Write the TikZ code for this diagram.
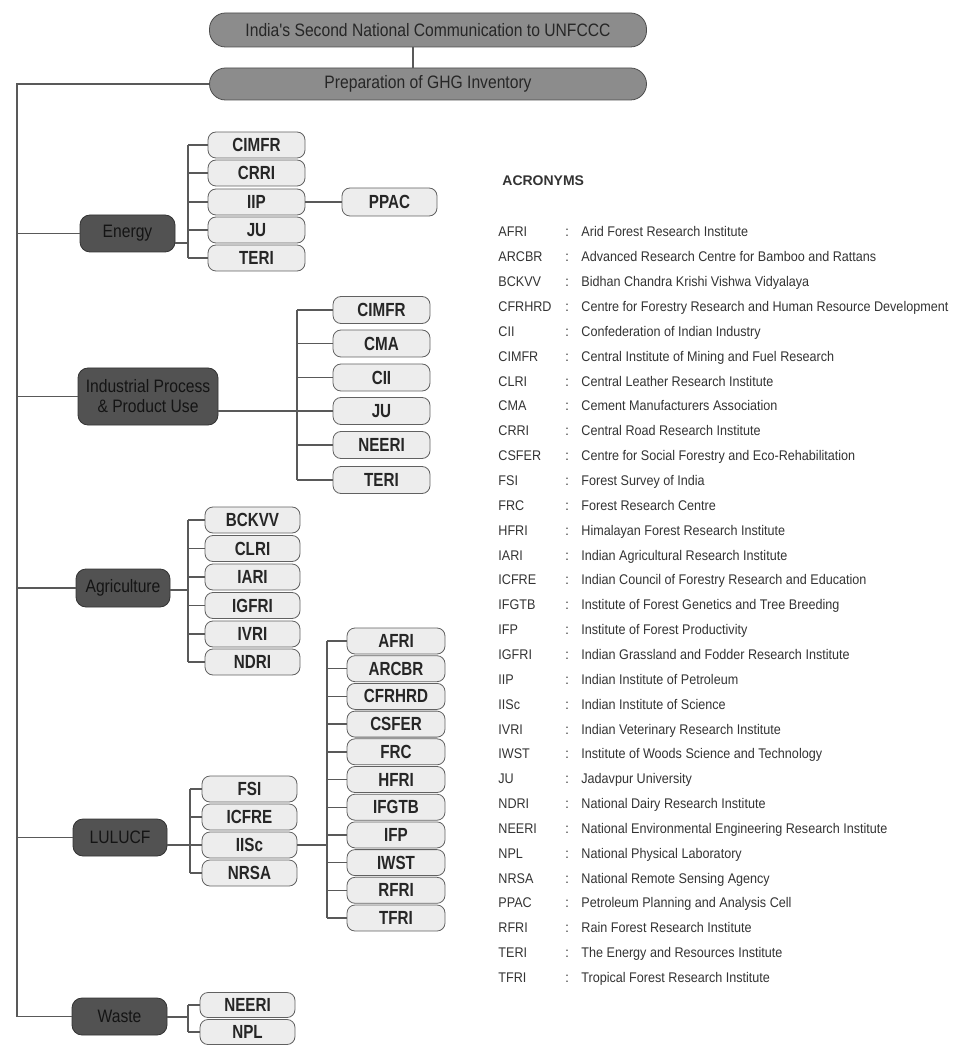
\documentclass[tikz,border=0pt]{standalone}
\usepackage{fontspec}
\newfontfamily\condf{Liberation Sans}[FakeStretch=0.87]
\newfontfamily\boxf{Liberation Sans Bold}[FakeStretch=0.8]
\newfontfamily\acrf{Liberation Sans}[FakeStretch=0.9]
\newfontfamily\plainb{Liberation Sans Bold}
\tikzset{
  conn/.style={draw=black!65, line width=0.7pt},
  topbox/.style={draw=black!70, fill=black!45, rounded corners=8pt, minimum width=218.5pt,
    minimum height=17pt, inner sep=0pt, font=\condf\fontsize{9}{10}\selectfont, text=black!85},
  sector/.style={draw=black!80, fill=black!68, rounded corners=5pt, inner sep=0pt,
    minimum width=47.5pt, minimum height=18.5pt, align=center,
    font=\condf\fontsize{9}{10}\selectfont, text=black!92},
  org/.style={draw=black!62, fill=black!7, rounded corners=4pt, inner sep=0pt,
    minimum width=48.5pt, minimum height=13pt, font=\boxf\fontsize{9.5}{10}\selectfont, text=black!85},
  acr/.style={anchor=base west, inner sep=0pt, font=\acrf\fontsize{7}{8}\selectfont, text=black!80}
}
\begin{document}
\begin{tikzpicture}[x=0.5pt,y=-0.5pt]
\useasboundingbox (0,0) rectangle (955,1047);
% top
\node[topbox] (t1) at (428,30) {India's Second National Communication to UNFCCC};
\node[topbox, minimum height=16pt] (t2) at (428,84) {Preparation of GHG Inventory};
\draw[conn] ([xshift=-7.5pt]t1.south) -- ([xshift=-7.5pt]t2.north);
% sectors
\node[sector] (energy) at (127.5,233.5) {Energy};
\node[sector, minimum width=70pt, minimum height=28.5pt] (ippu) at (148,396.5) {Industrial Process\\\& Product Use};
\node[sector, minimum width=47pt, minimum height=19pt] (agri) at (123,588) {Agriculture};
\node[sector, minimum width=47pt] (lulucf) at (120,837.5) {LULUCF};
\node[sector] (waste) at (119.5,1016.5) {Waste};
% trunk
\coordinate (tr) at (17,84);
\draw[conn] (t2.west) -- (tr) -- (tr |- waste.west) -- (waste.west);
\foreach \s in {energy,ippu,agri,lulucf}
  \draw[conn] (tr |- \s.west) -- (\s.west);
% energy group
\foreach \n/\t/\y in {e1/CIMFR/145, e2/CRRI/173, e3/IIP/202, e4/JU/230, e5/TERI/258}
  \node[org] (\n) at (256.5,\y) {\t};
\coordinate (eb) at (188,243);
\draw[conn] (e1.west -| eb) -- (e5.west -| eb);
\foreach \n in {e1,e2,e3,e4,e5} \draw[conn] (\n.west -| eb) -- (\n.west);
\draw[conn] (energy.east |- eb) -- (eb);
\node[org, minimum width=47.5pt, minimum height=14pt] (ppac) at (389.5,202) {PPAC};
\draw[conn] (e3.east) -- (ppac.west);
% IPPU group
\foreach \n/\t/\y in {i1/CIMFR/310, i2/CMA/343.5, i3/CII/377.5, i4/JU/411, i5/NEERI/445, i6/TERI/480}
  \node[org, minimum height=13.5pt] (\n) at (381.5,\y) {\t};
\coordinate (ib) at (297,0);
\draw[conn] (i1.west -| ib) -- (i6.west -| ib);
\foreach \n in {i1,i2,i3,i5,i6} \draw[conn] (\n.west -| ib) -- (\n.west);
\draw[conn] (ippu.east |- i4.west) -- (i4.west);
% Agriculture group
\foreach \n/\t/\y in {a1/BCKVV/520, a2/CLRI/548.5, a3/IARI/577, a4/IGFRI/605.5, a5/IVRI/634, a6/NDRI/662}
  \node[org, minimum width=47.5pt] (\n) at (252.5,\y) {\t};
\coordinate (ab) at (188,590);
\draw[conn] (a1.west -| ab) -- (a6.west -| ab);
\foreach \n in {a1,a2,a3,a4,a5,a6} \draw[conn] (\n.west -| ab) -- (\n.west);
\draw[conn] (agri.east |- ab) -- (ab);
% LULUCF group
\foreach \n/\t/\y in {l1/FSI/789, l2/ICFRE/817, l3/IISc/845, l4/NRSA/873}
  \node[org, minimum width=47.5pt] (\n) at (249.5,\y) {\t};
\coordinate (lb) at (190,0);
\draw[conn] (l1.west -| lb) -- (l4.west -| lb);
\foreach \n in {l1,l2,l4} \draw[conn] (\n.west -| lb) -- (\n.west);
\draw[conn] (lulucf.east |- l3.west) -- (l3.west);
% forest institutes
\foreach \n/\t [count=\k from 0] in {f1/AFRI, f2/ARCBR, f3/CFRHRD, f4/CSFER, f5/FRC, f6/HFRI, f7/IFGTB, f8/IFP, f9/IWST, f10/RFRI, f11/TFRI}
  \node[org, minimum width=49pt] (\n) at (396,{641+27.7*\k}) {\t};
\coordinate (fb) at (327,845);
\draw[conn] (f1.west -| fb) -- (f11.west -| fb);
\foreach \n in {f1,f2,f3,f4,f5,f6,f7,f8,f9,f10,f11} \draw[conn] (\n.west -| fb) -- (\n.west);
\draw[conn] (l3.east) -- (fb);
% Waste group
\foreach \n/\t/\y in {w1/NEERI/1005, w2/NPL/1032}
  \node[org, minimum width=47.5pt, minimum height=12.5pt] (\n) at (247.5,\y) {\t};
\coordinate (wb) at (188,1017);
\draw[conn] (w1.west -| wb) -- (w2.west -| wb);
\foreach \n in {w1,w2} \draw[conn] (\n.west -| wb) -- (\n.west);
\draw[conn] (waste.east |- wb) -- (wb);
% acronyms
\node[anchor=base west, inner sep=0pt, font=\plainb\fontsize{7}{8}\selectfont, text=black!80] (acrtitle) at (502,186) {ACRONYMS};
\foreach \a/\d [count=\i from 0] in {
  AFRI/Arid Forest Research Institute,
  ARCBR/Advanced Research Centre for Bamboo and Rattans,
  BCKVV/Bidhan Chandra Krishi Vishwa Vidyalaya,
  CFRHRD/Centre for Forestry Research and Human Resource Development,
  CII/Confederation of Indian Industry,
  CIMFR/Central Institute of Mining and Fuel Research,
  CLRI/Central Leather Research Institute,
  CMA/Cement Manufacturers Association,
  CRRI/Central Road Research Institute,
  CSFER/Centre for Social Forestry and Eco-Rehabilitation,
  FSI/Forest Survey of India,
  FRC/Forest Research Centre,
  HFRI/Himalayan Forest Research Institute,
  IARI/Indian Agricultural Research Institute,
  ICFRE/Indian Council of Forestry Research and Education,
  IFGTB/Institute of Forest Genetics and Tree Breeding,
  IFP/Institute of Forest Productivity,
  IGFRI/Indian Grassland and Fodder Research Institute,
  IIP/Indian Institute of Petroleum,
  IISc/Indian Institute of Science,
  IVRI/Indian Veterinary Research Institute,
  IWST/Institute of Woods Science and Technology,
  JU/Jadavpur University,
  NDRI/National Dairy Research Institute,
  NEERI/National Environmental Engineering Research Institute,
  NPL/National Physical Laboratory,
  NRSA/National Remote Sensing Agency,
  PPAC/Petroleum Planning and Analysis Cell,
  RFRI/Rain Forest Research Institute,
  TERI/The Energy and Resources Institute,
  TFRI/Tropical Forest Research Institute}
{
  \node[acr] (ab\i) at (498,{237+24.85*\i}) {\a};
  \node[acr] (ac\i) at (565,{237+24.85*\i}) {:};
  \node[acr] (ad\i) at (581,{237+24.85*\i}) {\d};
}
\end{tikzpicture}
\end{document}
